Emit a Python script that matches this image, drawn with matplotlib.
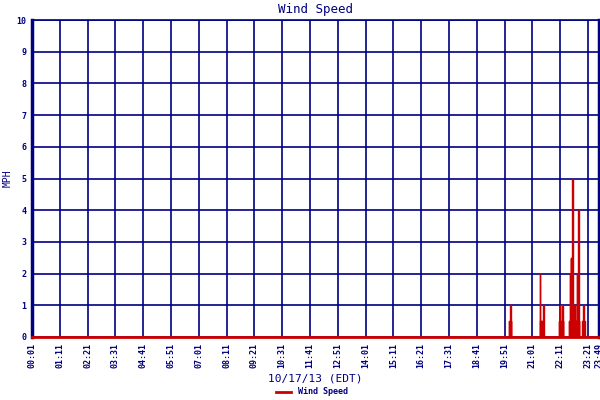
import matplotlib
matplotlib.use("Agg")
import matplotlib.pyplot as plt

# wind speed readings for 10/17/13 (mph), zero elsewhere
times = ["00:01", "20:02", "20:03", "20:04", "20:05", "20:06", "20:07",
         "20:08", "20:09",
         "21:19", "21:20", "21:21", "21:22", "21:23", "21:25", "21:26",
         "21:27", "21:28", "21:29", "21:30",
         "22:08", "22:09", "22:10", "22:11", "22:12", "22:14", "22:15",
         "22:17", "22:18", "22:19", "22:20",
         "22:32", "22:33", "22:34", "22:36", "22:37", "22:38", "22:39",
         "22:40", "22:41", "22:42", "22:43", "22:44", "22:46", "22:47",
         "22:49", "22:50", "22:51", "22:52", "22:54", "22:55", "22:57",
         "22:58", "22:59", "23:00",
         "23:06", "23:07", "23:08", "23:10", "23:11", "23:12", "23:13",
         "23:49"]
speeds = [0, 0, 0.5, 0, 0, 1, 0,
          0.5, 0,
          0, 2, 0, 0.5, 0, 0.5, 0,
          0.5, 0, 1, 0,
          0, 0.5, 0, 1, 0, 0.5, 0,
          1, 0, 0.5, 0,
          0, 0.5, 0, 2, 0, 2.5, 0,
          2.5, 0, 5, 2.5, 0, 1, 0,
          1, 0, 0.5, 0, 2, 0, 4,
          0, 0.5, 0,
          0, 0.5, 0, 1, 0, 0.5, 0,
          0]

tick_labels = ["00:01", "01:11", "02:21", "03:31", "04:41", "05:51", "07:01",
               "08:11", "09:21", "10:31", "11:41", "12:51", "14:01", "15:11",
               "16:21", "17:31", "18:41", "19:51", "21:01", "22:11", "23:21",
               "23:49"]


def to_min(t):
    h, m = t.split(":")
    return int(h) * 60 + int(m)


navy = "#000080"
red = "#cc0000"
mono = "DejaVu Sans Mono"

fig = plt.figure(figsize=(6, 4), dpi=100)
ax = fig.add_axes([32 / 600, 63 / 400, 567 / 600, 317 / 400])

x = [to_min(t) for t in times]
ax.plot(x, speeds, color=red, lw=1.0, zorder=3, drawstyle="steps-mid",
        label="Wind Speed")

ax.set_xlim(to_min("00:01"), to_min("23:49"))
ax.set_ylim(0, 10)
ax.set_xticks([to_min(t) for t in tick_labels])
ax.set_xticklabels(tick_labels, rotation=90, family=mono, fontsize=6,
                   fontweight="bold", color=navy)
ax.set_yticks(range(0, 11))
ax.set_yticklabels([str(v) for v in range(0, 11)], family=mono, fontsize=6,
                   fontweight="bold", color=navy)
ax.tick_params(length=0, pad=4)
ax.grid(True, color=navy, lw=1.2)
ax.set_axisbelow(True)

for side in ["left", "right"]:
    ax.spines[side].set_color(navy)
    ax.spines[side].set_linewidth(2.5)
ax.spines["top"].set_color(navy)
ax.spines["top"].set_linewidth(1.2)
ax.spines["bottom"].set_color(red)
ax.spines["bottom"].set_linewidth(2)

ax.set_title("Wind Speed", family=mono, fontsize=9, color=navy, pad=5)
ax.set_ylabel("MPH", family=mono, fontsize=7, color=navy, labelpad=3)
ax.set_xlabel("10/17/13 (EDT)", family=mono, fontsize=8, color=navy,
              labelpad=4)

leg = fig.legend(loc="lower center", bbox_to_anchor=(0.52, -0.01),
                 frameon=False, handlelength=1.8, prop={"family": mono,
                 "size": 6, "weight": "bold"})
for t in leg.get_texts():
    t.set_color(navy)
for h in leg.get_lines():
    h.set_linewidth(2)

fig.savefig("out.png", dpi=100)
